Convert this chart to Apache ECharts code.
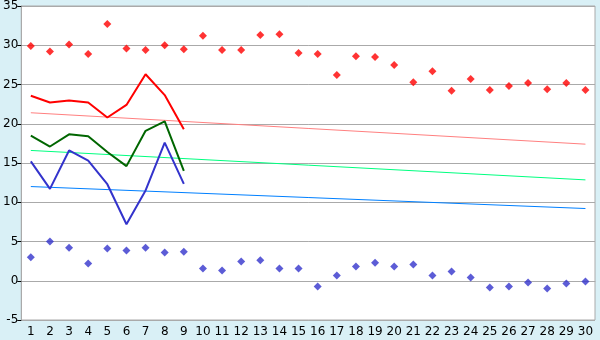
<!DOCTYPE html>
<html><head><meta charset="utf-8">
<script src="https://cdn.jsdelivr.net/npm/echarts@6/dist/echarts.min.js"></script>
<style>html,body{margin:0;padding:0;background:#d9f0f6;}#c{width:600px;height:340px;}</style>
</head><body><div id="c"></div>
<script>
const categories = ['1','2','3','4','5','6','7','8','9','10','11','12','13','14','15','16','17','18','19','20','21','22','23','24','25','26','27','28','29','30'];
const maxPoints = [29.9,29.2,30.1,28.9,32.7,29.6,29.4,30.0,29.5,31.2,29.4,29.4,31.3,31.4,29.0,28.9,26.2,28.6,28.5,27.5,25.3,26.7,24.2,25.7,24.3,24.8,25.2,24.4,25.2,24.3];
const minPoints = [3.0,5.0,4.2,2.2,4.1,3.85,4.2,3.6,3.7,1.56,1.3,2.45,2.6,1.56,1.56,-0.73,0.67,1.8,2.3,1.8,2.07,0.67,1.18,0.42,-0.85,-0.73,-0.22,-0.98,-0.35,-0.1];
const redLine = [23.57,22.7,22.97,22.7,20.8,22.4,26.3,23.65,19.3];
const greenLine = [18.5,17.1,18.65,18.4,16.4,14.6,19.1,20.3,14.0];
const blueLine = [15.2,11.7,16.6,15.3,12.3,7.2,11.5,17.6,12.35];
const redTrend = [21.4,17.4];
const greenTrend = [16.6,12.85];
const blueTrend = [12.0,9.2];
const yTicks = {min:-5,max:35,interval:5};

function trend(t){ return [[0,t[0]],[categories.length-1,t[1]]]; }
const chart = echarts.init(document.getElementById('c'));
const font = 'DejaVu Sans';
chart.setOption({
  animation:false,
  backgroundColor:'#d9f0f6',
  grid:{left:20,right:5,top:5,bottom:20,show:true,backgroundColor:'#fff',borderColor:'#aaa',borderWidth:1},
  xAxis:{type:'category',data:categories,boundaryGap:true,
    axisLine:{lineStyle:{color:'#aaa',width:1}},
    axisTick:{alignWithLabel:true,length:5,lineStyle:{color:'#000'}},
    axisLabel:{color:'#000',fontFamily:font,fontSize:12,margin:6,interval:0},
    splitLine:{show:false}},
  yAxis:{type:'value',min:yTicks.min,max:yTicks.max,interval:yTicks.interval,
    axisLine:{show:true,lineStyle:{color:'#aaa'}},
    axisTick:{show:true,length:4,lineStyle:{color:'#000'}},
    axisLabel:{color:'#000',fontFamily:font,fontSize:12,margin:3},
    splitLine:{lineStyle:{color:'#aaa',width:1}}},
  series:[
    {type:'line',data:trend(redTrend),symbol:'none',lineStyle:{color:'#ff8080',width:1},z:2},
    {type:'line',data:trend(greenTrend),symbol:'none',lineStyle:{color:'#00ff80',width:1},z:2},
    {type:'line',data:trend(blueTrend),symbol:'none',lineStyle:{color:'#0080ff',width:1},z:2},
    {type:'line',data:redLine,symbol:'none',lineStyle:{color:'#ff0000',width:2},z:3},
    {type:'line',data:greenLine,symbol:'none',lineStyle:{color:'#006600',width:2},z:3},
    {type:'line',data:blueLine,symbol:'none',lineStyle:{color:'#3333cc',width:2},z:3},
    {type:'scatter',data:maxPoints,symbol:'diamond',symbolSize:8,itemStyle:{color:'#ff0000'},z:4},
    {type:'scatter',data:minPoints,symbol:'diamond',symbolSize:8,itemStyle:{color:'#3333cc'},z:4}
  ]
});
</script></body></html>
